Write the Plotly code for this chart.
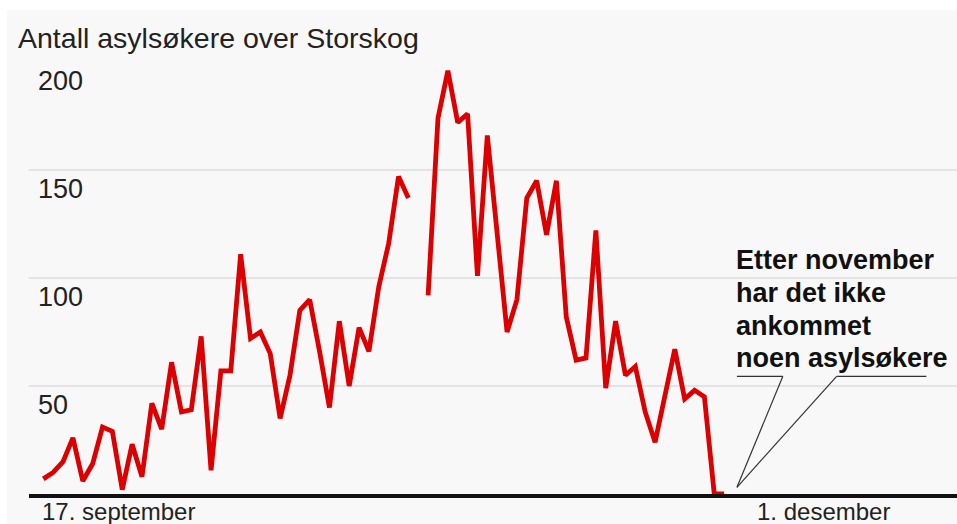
import pandas as pd
import plotly.graph_objects as go

# Daily arrivals over Storskog, starting 17 September (None = no figure reported)
start_date = "2015-09-17"
arrivals = [
    7, 10, 15, 26, 6, 14, 31, 29, 2, 23,
    8, 42, 30, 61, 38, 39, 73, 11, 57, 57,
    111, 72, 75, 65, 35, 55, 85, 90, 66, 40,
    80, 50, 77, 66, 96, 116, 147, 137, None, 92,
    174, 196, 172, 176, 101, 166, 121, 75, 90, 137,
    145, 120, 145, 82, 62, 63, 122, 49, 80, 55,
    59, 38, 24, 45, 67, 44, 48, 45, 0, 0,
]
y_ticks = [50, 100, 150, 200]
x_labels = ["17. september", "1. desember"]
x_label_dates = ["2015-09-17", "2015-12-01"]
title_text = "Antall asylsøkere over Storskog"
note_lines = ["Etter november", "har det ikke", "ankommet", "noen asylsøkere"]

start = pd.Timestamp(start_date)
dates = pd.date_range(start, periods=len(arrivals), freq="D")


def day(offset):
    return (start + pd.Timedelta(days=offset)).isoformat()


FONT = "Liberation Sans, Arial, Helvetica, sans-serif"
INK = "#222222"
PANEL = "#f8f8f8"

fig = go.Figure()
fig.add_trace(go.Scatter(
    x=dates, y=arrivals, mode="lines",
    line=dict(color="#dd0000", width=4.8),
    connectgaps=False, cliponaxis=False, hoverinfo="skip",
))

# light panel behind the whole graphic
fig.add_shape(type="rect", xref="paper", yref="paper",
              x0=-22 / 928, x1=1.0, y0=-30 / 432, y1=1 + 52 / 432,
              fillcolor=PANEL, line=dict(width=0), layer="below")

# x labels, left-aligned under their dates
for lbl, d, shift in zip(x_labels, x_label_dates, [-3, -28]):
    fig.add_annotation(x=d, xref="x", y=0, yref="paper", text=lbl,
                       showarrow=False, xanchor="left", yanchor="top",
                       xshift=shift, yshift=-2,
                       font=dict(family=FONT, size=24, color=INK))

# note, one line per annotation, with two pointer lines to the zero stretch
for line_text, yv in zip(note_lines, [108.2, 92.9, 77.6, 62.8]):
    fig.add_annotation(x=day(70.3), xref="x", y=yv, yref="y",
                       text="<b>" + line_text + "</b>", xshift=-3,
                       showarrow=False, xanchor="left", yanchor="middle", align="left",
                       font=dict(family=FONT, size=27, color="#111111"))
pointer = dict(color="#333333", width=1.2)
fig.add_shape(type="line", xref="x", yref="y", x0=day(70.3), y0=54.5, x1=day(74.95), y1=54.5, line=pointer)
fig.add_shape(type="line", xref="x", yref="y", x0=day(74.95), y0=54.5, x1=day(70.3), y1=3.1, line=pointer)
fig.add_shape(type="line", xref="x", yref="y", x0=day(80.4), y0=54.5, x1=day(89.5), y1=54.5, line=pointer)
fig.add_shape(type="line", xref="x", yref="y", x0=day(80.4), y0=54.5, x1=day(70.3), y1=3.1, line=pointer)

fig.update_layout(
    width=957, height=524,
    margin=dict(l=29, r=0, t=62, b=30),
    paper_bgcolor="white", plot_bgcolor=PANEL,
    showlegend=False,
    font=dict(family=FONT, color=INK),
    title=dict(text=title_text, x=18 / 957, xref="container", xanchor="left",
               y=1 - 38 / 524, yref="container", yanchor="middle",
               font=dict(family=FONT, size=28.5, color=INK)),
    xaxis=dict(type="date", range=[day(-1.45), day(92.6)],
               showgrid=False, zeroline=False, showticklabels=False, ticks="",
               showline=True, linecolor="#111111", linewidth=4, layer="below traces"),
    yaxis=dict(range=[0, 200], tickvals=y_ticks, showgrid=True,
               gridcolor="#e3e3e3", gridwidth=2, zeroline=False, showline=False,
               ticks="", ticklabelposition="inside", ticklabelshift=19,
               ticklabelstandoff=6,
               tickfont=dict(family=FONT, size=27, color=INK)),
)

fig.write_html("out.html")
